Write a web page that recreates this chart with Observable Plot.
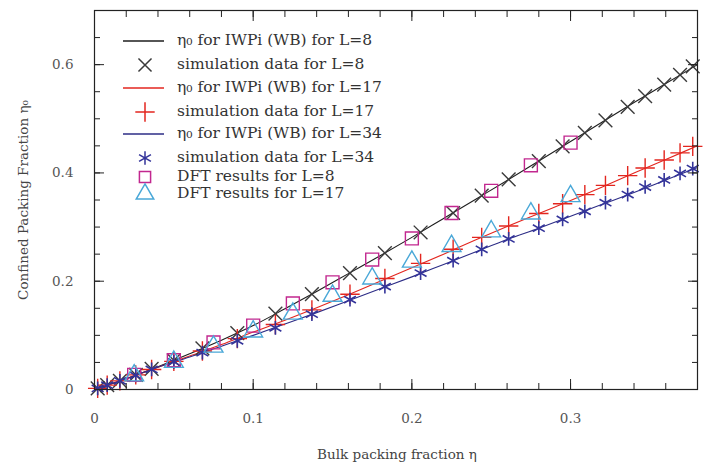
<!DOCTYPE html>
<html>
<head>
<meta charset="utf-8">
<script src="https://cdn.jsdelivr.net/npm/d3@7"></script>
<script src="https://cdn.jsdelivr.net/npm/@observablehq/plot@0.6"></script>
<style>
  html, body { margin: 0; padding: 0; background: #fff; }
  #chart { width: 703px; height: 466px; }
</style>
</head>
<body>
<div id="chart"></div>
<script>
// ---- data ----
const etaSim = [0.002, 0.008, 0.016, 0.026, 0.036, 0.05, 0.068, 0.09, 0.114, 0.137, 0.161, 0.183, 0.2055, 0.226, 0.244, 0.261, 0.28, 0.295, 0.309, 0.322, 0.336, 0.347, 0.359, 0.369, 0.377];
const simL8  = [0.002, 0.008, 0.016, 0.027, 0.038, 0.054, 0.076, 0.104, 0.140, 0.176, 0.215, 0.252, 0.290, 0.326, 0.358, 0.388, 0.422, 0.449, 0.474, 0.497, 0.522, 0.542, 0.563, 0.581, 0.597];
const simL17 = [0.002, 0.008, 0.016, 0.027, 0.037, 0.052, 0.071, 0.094, 0.120, 0.147, 0.176, 0.205, 0.233, 0.259, 0.281, 0.302, 0.325, 0.343, 0.360, 0.377, 0.395, 0.409, 0.424, 0.437, 0.449];
const simL34 = [0.002, 0.008, 0.016, 0.026, 0.037, 0.051, 0.068, 0.090, 0.114, 0.139, 0.166, 0.190, 0.215, 0.238, 0.259, 0.278, 0.298, 0.314, 0.329, 0.345, 0.360, 0.374, 0.387, 0.399, 0.408];

const etaLine = [0, 0.02, 0.04, 0.06, 0.08, 0.10, 0.12, 0.14, 0.16, 0.18, 0.20, 0.22, 0.24, 0.26, 0.28, 0.30, 0.32, 0.34, 0.36, 0.38];
const lineL8  = [0, 0.020, 0.042, 0.066, 0.091, 0.118, 0.149, 0.181, 0.214, 0.247, 0.281, 0.316, 0.351, 0.386, 0.422, 0.458, 0.494, 0.530, 0.565, 0.600];
const lineL17 = [0, 0.020, 0.041, 0.062, 0.083, 0.106, 0.128, 0.151, 0.175, 0.200, 0.225, 0.250, 0.276, 0.301, 0.325, 0.349, 0.374, 0.400, 0.425, 0.450];
const lineL34 = [0, 0.020, 0.041, 0.060, 0.080, 0.100, 0.121, 0.142, 0.164, 0.186, 0.208, 0.231, 0.254, 0.277, 0.298, 0.320, 0.342, 0.364, 0.387, 0.410];

const etaDFT = [0.025, 0.05, 0.075, 0.10, 0.125, 0.15, 0.175, 0.20, 0.225, 0.25, 0.275, 0.30];
const dftL8  = [0.027, 0.054, 0.087, 0.118, 0.159, 0.198, 0.240, 0.279, 0.326, 0.367, 0.414, 0.456];
const dftL17 = [0.026, 0.051, 0.079, 0.107, 0.140, 0.173, 0.205, 0.236, 0.265, 0.292, 0.325, 0.357];

const xTicksMajor = [0, 0.1, 0.2, 0.3];
const xTicksMinor = [0, 0.02, 0.04, 0.06, 0.08, 0.1, 0.12, 0.14, 0.16, 0.18, 0.2, 0.22, 0.24, 0.26, 0.28, 0.3, 0.32, 0.34, 0.36, 0.38];
const yTicksMajor = [0, 0.2, 0.4, 0.6];
const yTicksMinor = [0, 0.05, 0.1, 0.15, 0.2, 0.25, 0.3, 0.35, 0.4, 0.45, 0.5, 0.55, 0.6, 0.65, 0.7];

const legendLabels = [
  "η₀ for IWPi (WB) for L=8",
  "simulation data for L=8",
  "η₀ for IWPi (WB) for L=17",
  "simulation data for L=17",
  "η₀ for IWPi (WB) for L=34",
  "simulation data for L=34",
  "DFT results for L=8",
  "DFT results for L=17"
];

// ---- styling ----
const C = {
  l8: "#1e1e1e", x8: "#3a3a3a",
  l17: "#e3261f", p17: "#e3261f",
  l34: "#2c2c86", a34: "#34349a",
  sq: "#c2278f", tri: "#4aa8d8"
};
const FONT = "'DejaVu Serif', 'Liberation Serif', serif";

const zip = (xs, ys) => xs.map((x, i) => ({x, y: ys[i]}));

const plot = Plot.plot({
  width: 703,
  height: 466,
  marginLeft: 94,
  marginRight: 6,
  marginTop: 10,
  marginBottom: 77,
  x: {domain: [0, 0.38]},
  y: {domain: [0, 0.7]},
  style: {fontFamily: FONT, fontSize: "13.5px", background: "white", color: "#222"},
  marks: [
    Plot.line(zip(etaLine, lineL8),  {x: "x", y: "y", stroke: C.l8,  strokeWidth: 1.1, curve: "monotone-x"}),
    Plot.line(zip(etaLine, lineL17), {x: "x", y: "y", stroke: C.l17, strokeWidth: 1.1, curve: "monotone-x"}),
    Plot.line(zip(etaLine, lineL34), {x: "x", y: "y", stroke: C.l34, strokeWidth: 1.1, curve: "monotone-x"}),
    Plot.dot(zip(etaSim, simL8),  {x: "x", y: "y", symbol: "times",    stroke: C.x8,  r: 6.3, strokeWidth: 1.4}),
    Plot.dot(zip(etaSim, simL17), {x: "x", y: "y", symbol: "plus",     stroke: C.p17, r: 6.3, strokeWidth: 1.4}),
    Plot.dot(zip(etaSim, simL34), {x: "x", y: "y", symbol: "asterisk", stroke: C.a34, r: 6.5, strokeWidth: 1.6}),
    Plot.dot(zip(etaDFT, dftL8),  {x: "x", y: "y", symbol: "square",   stroke: C.sq,  fill: "none", r: 7.3, strokeWidth: 1.4}),
    Plot.dot(zip(etaDFT, dftL17), {x: "x", y: "y", symbol: "triangle", stroke: C.tri, fill: "none", r: 7.0, strokeWidth: 1.4}),
    // inward ticks on all four sides
    Plot.axisX({anchor: "bottom", ticks: xTicksMinor, tickSize: -6, tickFormat: () => "", label: null, stroke: "#222"}),
    Plot.axisX({anchor: "bottom", ticks: xTicksMajor, tickSize: -10, tickFormat: () => "", label: null, stroke: "#222"}),
    Plot.axisX({anchor: "top", ticks: xTicksMinor, tickSize: -6, tickFormat: () => "", label: null, stroke: "#222"}),
    Plot.axisX({anchor: "top", ticks: xTicksMajor, tickSize: -10, tickFormat: () => "", label: null, stroke: "#222"}),
    Plot.axisY({anchor: "left", ticks: yTicksMinor, tickSize: -6, tickFormat: () => "", label: null, stroke: "#222"}),
    Plot.axisY({anchor: "left", ticks: yTicksMajor, tickSize: -10, tickFormat: () => "", label: null, stroke: "#222"}),
    Plot.axisY({anchor: "right", ticks: yTicksMinor, tickSize: -6, tickFormat: () => "", label: null, stroke: "#222"}),
    Plot.axisY({anchor: "right", ticks: yTicksMajor, tickSize: -10, tickFormat: () => "", label: null, stroke: "#222"}),
    // tick labels
    Plot.axisX({anchor: "bottom", ticks: xTicksMajor, tickSize: 0, tickPadding: 24, tickFormat: d => String(d), label: null, fill: "#555"}),
    Plot.axisY({anchor: "left", ticks: yTicksMajor, tickSize: 0, tickPadding: 21, tickFormat: d => String(d), label: null, fill: "#555"}),
    Plot.frame({stroke: "#222", strokeWidth: 1.2})
  ]
});

document.getElementById("chart").appendChild(plot);

// ---- axis titles and legend (overlay) ----
const svg = d3.select(plot);
svg.append("text")
  .attr("x", 397).attr("y", 455)
  .attr("text-anchor", "middle").attr("dominant-baseline", "middle")
  .attr("font-family", FONT).attr("font-size", 13.5).attr("fill", "#444")
  .text("Bulk packing fraction η");
svg.append("text")
  .attr("transform", "translate(24,200) rotate(-90)")
  .attr("text-anchor", "middle").attr("dominant-baseline", "middle")
  .attr("font-family", FONT).attr("font-size", 13.5).attr("fill", "#444")
  .text("Confined Packing Fraction η₀");

const rowsY = [41, 65, 88, 112, 134, 158, 177, 194];
const legendKinds = [
  {type: "line", color: C.l8},
  {type: "sym", sym: d3.symbolTimes, color: C.x8, size: Math.PI * 6 * 6},
  {type: "line", color: C.l17},
  {type: "sym", sym: d3.symbolPlus, color: C.p17, size: Math.PI * 6.3 * 6.3},
  {type: "line", color: C.l34},
  {type: "sym", sym: d3.symbolAsterisk, color: C.a34, size: Math.PI * 6.5 * 6.5},
  {type: "sym", sym: d3.symbolSquare, color: C.sq, size: Math.PI * 6.3 * 6.3},
  {type: "sym", sym: d3.symbolTriangle, color: C.tri, size: Math.PI * 6.5 * 6.5}
];
const lg = svg.append("g").attr("class", "legend").attr("text-anchor", "start");
legendLabels.forEach((label, i) => {
  const k = legendKinds[i];
  const y = rowsY[i];
  if (k.type === "line") {
    lg.append("line").attr("x1", 123).attr("x2", 164).attr("y1", y).attr("y2", y)
      .attr("stroke", k.color).attr("stroke-width", 1.4);
  } else {
    lg.append("path").attr("transform", `translate(145,${y})`)
      .attr("d", d3.symbol(k.sym, k.size)())
      .attr("fill", "none").attr("stroke", k.color).attr("stroke-width", 1.5);
  }
  lg.append("text").attr("x", 177).attr("y", y)
    .attr("text-anchor", "start")
    .attr("dominant-baseline", "middle")
    .attr("font-family", FONT).attr("font-size", 15.5).attr("fill", "#333")
    .text(label);
});
</script>
</body>
</html>
